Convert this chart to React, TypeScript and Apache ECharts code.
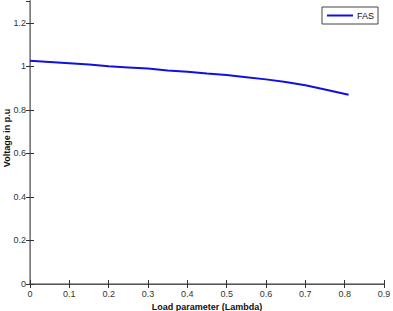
import React, { useEffect, useRef } from "react";
import * as echarts from "echarts";

const lambdaValues = [0, 0.05, 0.1, 0.15, 0.2, 0.25, 0.3, 0.35, 0.4, 0.45, 0.5, 0.55, 0.6, 0.65, 0.7, 0.75, 0.81];
const voltageValues = [1.025, 1.02, 1.014, 1.008, 1.0, 0.995, 0.99, 0.981, 0.975, 0.967, 0.96, 0.95, 0.94, 0.928, 0.913, 0.893, 0.869];
const seriesName = "FAS";
const xTitle = "Load parameter (Lambda)";
const yTitle = "Voltage in p.u";

export default function App() {
  const ref = useRef<HTMLDivElement>(null);
  useEffect(() => {
    if (!ref.current) return;
    const chart = echarts.init(ref.current, undefined, { renderer: "svg" });
    const axisLine = { show: true, lineStyle: { color: "#7f7f7f", width: 1.5 } };
    const tick = { show: true, inside: true, length: 4, lineStyle: { color: "#333", width: 1 } };
    const font = "Liberation Sans, Arial, sans-serif";
    const labelStyle = { color: "#333", fontSize: 9, fontFamily: font };
    chart.setOption({
      animation: false,
      backgroundColor: "#fff",
      grid: { left: 30, right: 9, top: 1, bottom: 27, containLabel: false, outerBoundsMode: "none" },
      legend: {
        data: [seriesName],
        right: 15,
        top: 7,
        orient: "vertical",
        borderColor: "#444",
        borderWidth: 1,
        borderRadius: 0,
        padding: [4, 4, 4, 5],
        backgroundColor: "#fff",
        itemWidth: 26,
        itemHeight: 2,
        itemGap: 4,
        icon: "rect",
        textStyle: { color: "#111", fontSize: 9, fontFamily: font, padding: [0, 0, 0, -1] },
      },
      graphic: [
        {
          type: "text",
          x: 7,
          y: 138,
          rotation: Math.PI / 2,
          style: {
            text: yTitle,
            fill: "#111",
            fontSize: 9,
            fontWeight: "bold",
            fontFamily: font,
            align: "center",
            verticalAlign: "middle",
          },
        },
      ],
      xAxis: [
        {
          type: "value",
          min: 0,
          max: 0.9,
          interval: 0.1,
          position: "bottom",
          axisLine,
          axisTick: tick,
          splitLine: { show: false },
          axisLabel: { ...labelStyle, margin: 5 },
          name: xTitle,
          nameLocation: "middle",
          nameGap: 16,
          nameTextStyle: { color: "#111", fontSize: 9, fontWeight: "bold", fontFamily: font },
        },
        {
          type: "value",
          min: 0,
          max: 0.9,
          interval: 0.1,
          position: "top",
          axisLine: { show: true, lineStyle: { color: "#555", width: 1 } },
          axisTick: tick,
          axisLabel: { show: false },
          splitLine: { show: false },
        },
      ],
      yAxis: [
        {
          type: "value",
          min: 0,
          max: 1.3,
          interval: 0.2,
          position: "left",
          axisLine,
          axisTick: tick,
          splitLine: { show: false },
          axisLabel: { ...labelStyle, margin: 4, showMaxLabel: false },
        },
        {
          type: "value",
          min: 0,
          max: 1.3,
          interval: 0.2,
          position: "right",
          axisLine: { show: true, lineStyle: { color: "#7f7f7f", width: 1 } },
          axisTick: tick,
          axisLabel: { show: false },
          splitLine: { show: false },
        },
      ],
      series: [
        {
          name: seriesName,
          type: "line",
          xAxisIndex: 0,
          yAxisIndex: 0,
          showSymbol: false,
          symbol: "none",
          data: lambdaValues.map((x, i) => [x, voltageValues[i]]),
          lineStyle: { color: "#1010e0", width: 2 },
          itemStyle: { color: "#1010e0" },
        },
      ],
    });
    return () => chart.dispose();
  }, []);
  return <div ref={ref} style={{ width: 393, height: 311, position: "fixed", left: 0, top: 0 }} />;
}
